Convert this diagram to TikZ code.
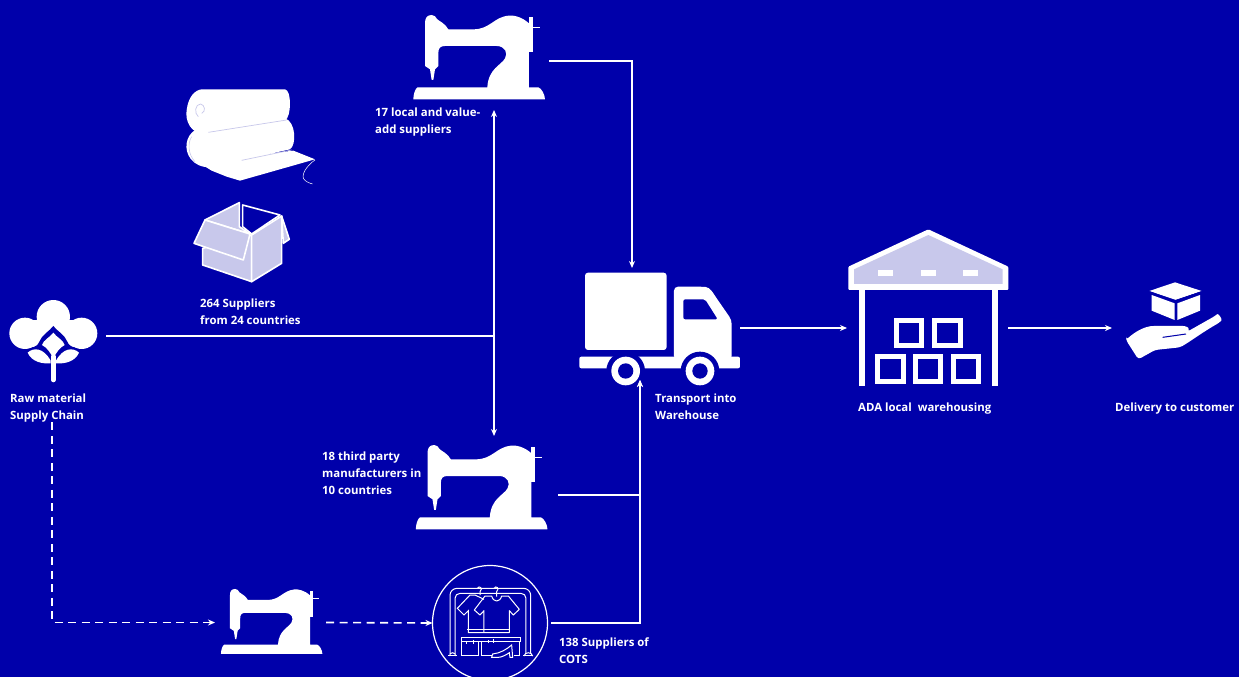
\documentclass[tikz,border=0pt]{standalone}
\usepackage{fontspec}
\setmainfont{Open Sans}
\usetikzlibrary{arrows.meta}
\definecolor{bgblue}{RGB}{0,0,170}
\definecolor{lilac}{RGB}{200,200,235}
\tikzset{
  iconbox/.style={inner sep=0pt, outer sep=0pt},
  caption/.style={text=white, font=\fontsize{11.4}{16.6}\selectfont\bfseries, align=left, anchor=north west, inner sep=0pt},
  conn/.style={white, line width=1.6pt},
  sewingmachine/.pic={
    \fill[white] (155,45) .. controls (140,45) and (135,55) .. (135,70) -- (135,198) -- (150,208) -- (155,240) -- (160,240) -- (165,208) -- (175,198) -- (175,160) .. controls (175,145) and (180,138) .. (195,138) -- (350,138) .. controls (375,138) and (385,160) .. (375,175) .. controls (365,195) and (325,205) .. (322,262) -- (113,262) .. controls (105,265) and (100,285) .. (100,298) -- (495,298) .. controls (495,285) and (485,265) .. (475,262) -- (447,262) -- (447,70) .. controls (425,50) and (400,45) .. (385,47) .. controls (340,52) and (330,88) .. (280,88) -- (205,88) .. controls (195,70) and (180,65) .. (172,58) .. controls (168,50) and (162,45) .. (155,45) -- cycle;
    \fill[white] (447,52) rectangle (458,155);
    \fill[white] (458,80) rectangle (480,85);
  },
  fabricrolls/.pic={
    % Rolls and the sheet under them
    \fill[white] (90,250) -- (215,230) -- (370,212) -- (435,238) -- (210,302) -- (170,290) -- (125,272) -- cycle;
    \fill[white] (75,150) -- (345,115) .. controls (378,125) and (380,195) .. (360,208) -- (120,262) .. controls (65,262) and (45,220) .. (50,190) .. controls (52,175) and (60,160) .. (75,150) -- cycle;
    \fill[white] (95,28) -- (345,28) .. controls (365,30) and (365,110) .. (345,122) -- (110,160) .. controls (60,165) and (45,120) .. (50,90) .. controls (55,50) and (75,30) .. (95,28) -- cycle;
    \draw[lilac, line width=0.7pt] (115,157) -- (350,120);
    \draw[lilac, line width=0.7pt] (215,241) -- (365,210);
    \draw[lilac, line width=0.7pt] (95,100) .. controls (108,95) and (105,75) .. (92,72) .. controls (75,72) and (72,100) .. (85,110);
    \draw[lilac, line width=0.6pt] (65,170) .. controls (52,190) and (55,225) .. (75,245);
    \draw[white, line width=0.5pt] (435,240) .. controls (420,250) and (395,275) .. (400,295) .. controls (405,305) and (420,310) .. (428,312);
    % Open carton
    \begin{scope}[white, line width=1.6pt, line join=round]
      \filldraw[fill=lilac] (105,420) -- (208,368) -- (208,440) -- (240,462) -- cycle;
      \filldraw[fill=bgblue] (218,375) -- (330,405) -- (245,462) -- (218,440) -- cycle;
      \filldraw[fill=lilac] (98,505) -- (98,555) -- (245,605) -- (245,465) -- cycle;
      \filldraw[fill=lilac] (245,605) -- (335,550) -- (335,408) -- (245,465) -- cycle;
      \filldraw[fill=lilac] (335,408) -- (358,478) -- (340,490) -- cycle;
      \filldraw[fill=lilac] (72,490) -- (105,420) -- (240,462) -- (220,540) -- cycle;
    \end{scope}
  },
  cottonplant/.pic={
    \fill[white] (160,80) circle (50);
    \fill[white] (75,130) circle (47);
    \fill[white] (245,130) circle (47);
    \fill[white] (75,90) rectangle (245,172);
    \fill[bgblue] (72,184) .. controls (90,172) and (110,175) .. (118,155) .. controls (125,135) and (150,122) .. (160,108) .. controls (170,122) and (195,135) .. (202,155) .. controls (210,175) and (230,172) .. (248,184) -- (248,240) -- (72,240) -- cycle;
    \fill[white] (160,128) .. controls (150,142) and (130,150) .. (126,165) .. controls (140,172) and (152,188) .. (160,206) .. controls (168,188) and (180,172) .. (194,165) .. controls (190,150) and (170,142) .. (160,128) -- cycle;
    \fill[white] (83,188) .. controls (100,172) and (130,172) .. (152,212) -- (152,220) .. controls (125,222) and (95,215) .. (83,188) -- cycle;
    \fill[white] (237,188) .. controls (220,172) and (190,172) .. (168,212) -- (168,220) .. controls (195,222) and (225,215) .. (237,188) -- cycle;
    \draw[white, line width=4.6pt, line cap=round] (160,200) -- (160,270);
  },
  deliverytruck/.pic={
    \fill[white, rounded corners=3pt] (45,38) rectangle (290,270);
    \fill[white, rounded corners=4pt] (312,300) -- (312,80) -- (395,80) .. controls (420,82) and (430,100) .. (440,115) -- (485,180) -- (485,300) -- cycle;
    \fill[bgblue, rounded corners=2pt] (340,118) -- (405,118) -- (443,178) -- (340,178) -- cycle;
    \fill[white, rounded corners=2pt] (28,290) rectangle (510,325);
    \fill[bgblue] (167,333) circle (58);
    \fill[bgblue] (390,333) circle (58);
    \fill[white] (167,333) circle (43);
    \fill[white] (390,333) circle (43);
    \fill[bgblue] (167,333) circle (23);
    \fill[bgblue] (390,333) circle (23);
  },
  warehousebuilding/.pic={
    \fill[white, rounded corners=1pt] (25,140) -- (265,28) -- (505,140) -- (505,210) -- (25,210) -- cycle;
    \fill[lilac] (42,148) -- (265,45) -- (488,148) -- (488,192) -- (42,192) -- cycle;
    \foreach \slitx in {113,242,370}
      \fill[white] (\slitx,150) rectangle ++(45,18);
    \fill[white] (57,210) rectangle (75,497);
    \fill[white] (455,210) rectangle (473,497);
    \foreach \cratex/\cratey in {162/295,277/295,106/402,219/402,332/402}
      \draw[white, line width=5pt] (\cratex+7,\cratey+7) rectangle ++(76,76);
  },
  parcelhand/.pic={
    \fill[white] (148,63) -- (225,37) -- (305,63) -- (228,90) -- cycle;
    \fill[white] (155,75) -- (224,100) -- (224,150) -- (155,122) -- cycle;
    \fill[white] (232,100) -- (300,75) -- (300,122) -- (232,150) -- cycle;
    \draw[bgblue, line width=0.8pt] (148,65) -- (224,92) -- (305,65);
    \fill[white, rounded corners=3pt] (78,210) -- (115,268) -- (165,240) -- (240,232) .. controls (270,215) and (310,185) .. (358,158) .. controls (368,148) and (355,130) .. (345,138) -- (262,185) .. controls (268,172) and (255,168) .. (240,168) -- (170,168) .. controls (135,168) and (105,185) .. (78,210) -- cycle;
    \draw[bgblue, line width=1pt] (188,202) -- (258,192);
  },
  clothesrack/.pic={
    \begin{scope}[white, line width=1pt]
      % Rail
      \draw[rounded corners=7pt] (90,282) -- (90,85) -- (332,85) -- (332,282);
      \draw[rounded corners=5pt] (105,282) -- (105,100) -- (318,100) -- (318,282);
      \draw (85,288) -- (110,288) (310,288) -- (340,288);
      \draw (88,288) .. controls (90,275) and (105,275) .. (108,288);
      \draw (312,288) .. controls (315,275) and (335,275) .. (338,288);
      % Hangers
      \draw (172,85) .. controls (178,75) and (190,85) .. (180,95) -- (180,105);
      \draw (222,85) .. controls (228,75) and (240,85) .. (230,95) -- (230,110);
      % Shirts
      \draw (192,118) -- (165,105) -- (150,105) -- (112,145) -- (132,165) -- (145,152) -- (145,218) -- (192,218);
      \draw (142,208) -- (192,208);
      \draw[line join=round] (215,108) -- (195,108) -- (163,150) -- (180,165) -- (192,152) -- (192,218) -- (268,218) -- (268,152) -- (280,165) -- (298,148) -- (265,108) -- (245,108) .. controls (240,128) and (220,128) .. (215,108) -- cycle;
      \draw (192,208) -- (268,208);
      % Shelf and boxes
      \draw (125,232) -- (303,232) -- (303,245) -- (125,245) -- cycle;
      \draw (125,245) -- (125,287) -- (175,287) -- (175,245);
      \draw (185,245) -- (185,287) -- (215,287);
      \draw (298,245) -- (298,287) -- (282,287);
      \draw (140,245) -- (140,252) (160,240) -- (160,252) (205,240) -- (205,250) (222,236) -- (222,250);
      % Shoe
      \draw (215,292) -- (218,282) .. controls (240,280) and (260,268) .. (275,255) -- (278,292) -- (270,292) -- (268,278) .. controls (258,285) and (245,292) .. (235,292) -- cycle;
    \end{scope}
  },
}
\begin{document}
\begin{tikzpicture}[x=1pt, y=-1pt, >={Stealth[length=7pt,width=6pt]}]
    \useasboundingbox (0,0) rectangle (1239,677);
    \fill[bgblue] (0,0) rectangle (1239,677);

    % Icon boxes, used as ends of the connectors
    \node[iconbox, minimum width=108pt, minimum height=90pt] (rawmaterial) at (52,336) {};
    \node[iconbox, minimum width=138pt, minimum height=92pt] (machinetop) at (480,61) {};
    \node[iconbox, minimum width=151pt, minimum height=118pt] (machinemid) at (482.5,495) {};
    \node[iconbox, minimum width=111pt, minimum height=70pt] (machinelow) at (270.5,622.5) {};
    \node[iconbox, minimum width=160pt, minimum height=120pt] (truck) at (660,328) {};
    \node[iconbox, minimum width=161pt, minimum height=160pt] (warehouse) at (927.5,328) {};
    \node[iconbox, minimum width=116pt, minimum height=90pt] (delivery) at (1170,328) {};
    \node[draw=white, line width=1.2pt, circle, inner sep=0pt, outer sep=0pt, minimum size=115pt] (cots) at (490,623) {};
    \coordinate (junction) at (494,336);

    % Icons
    \pic[scale=0.3333] at (380,0) {sewingmachine};
    \pic[scale=0.3333] at (382.5,430) {sewingmachine};
    \pic[scale=0.2567] at (195.3,577.4) {sewingmachine};
    \pic[scale=0.3333] at (170,80) {fabricrolls};
    \pic[scale=0.3333] at (0,290) {cottonplant};
    \pic[scale=0.3333] at (570,260) {deliverytruck};
    \pic[scale=0.3333] at (840,220) {warehousebuilding};
    \pic[scale=0.3333] at (1100,270) {parcelhand};
    \pic[scale=0.3333] at (420,560) {clothesrack};

    % Captions
    \node[caption] (rawlabel) at (10,394) {\parbox{84pt}{Raw material\\Supply Chain}};
    \node[caption] (fabriclabel) at (200,299) {264 Suppliers\\from 24 countries};
    \node[caption] (toplabel) at (375,108) {17 local and value-\\add suppliers};
    \node[caption] (midlabel) at (322,452) {18 third party\\manufacturers in\\10 countries};
    \node[caption] (cotslabel) at (559,638) {138 Suppliers of\\COTS};
    \node[caption] (trucklabel) at (655,394) {Transport into\\Warehouse};
    \node[caption] (warehouselabel) at (858,403) {ADA local\ \ warehousing};
    \node[caption] (deliverylabel) at (1115,403) {Delivery to customer};

    % Solid connections
    \draw[conn] (rawmaterial.east) -- (junction);
    \draw[conn, ->] (junction) -- ([xshift=14pt,yshift=-3pt]machinetop.south);
    \draw[conn, ->] (junction) -- ([xshift=11.5pt]machinemid.north);
    \draw[conn, ->] (machinetop.east) -| ([xshift=-28pt]truck.north);
    \draw[conn, ->] (machinemid.east) -| ([shift={(-20pt,8pt)}]truck.south);
    \draw[conn, ->] ([xshift=3.5pt]cots.east) -| ([shift={(-20pt,8pt)}]truck.south);
    \draw[conn, ->] (truck.east) -- (warehouse.west);
    \draw[conn, ->] (warehouse.east) -- (delivery.west);

    % Dashed connections
    \draw[conn, dash pattern=on 8pt off 5.5pt, ->] (rawlabel.south) |- (machinelow.west);
    \draw[conn, dash pattern=on 8pt off 5.5pt, ->] (machinelow.east) -- (cots.west);
\end{tikzpicture}
\end{document}
